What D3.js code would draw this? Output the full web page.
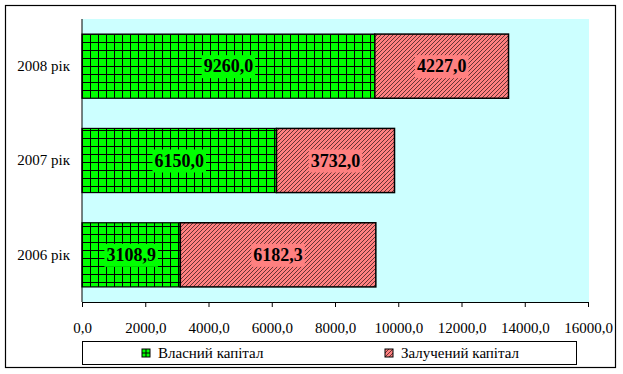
<!DOCTYPE html>
<html>
<head>
<meta charset="utf-8">
<script src="https://cdn.jsdelivr.net/npm/d3@7"></script>
<style>
  body { margin: 0; background: #fff; }
  svg { display: block; font-family: "Liberation Serif", "Times New Roman", serif; }
</style>
</head>
<body>
<div id="chart"></div>
<script>
const years = ["2008 рік", "2007 рік", "2006 рік"];
const ownCapital = [9260.0, 6150.0, 3108.9];
const borrowedCapital = [4227.0, 3732.0, 6182.3];
const seriesNames = ["Власний капітал", "Залучений капітал"];
const xTicks = [0, 2000, 4000, 6000, 8000, 10000, 12000, 14000, 16000];

const W = 623, H = 374;
const plot = { left: 82, right: 588, top: 19, bottom: 302 };

const locale = d3.formatLocale({ decimal: ",", thousands: "", grouping: [3], currency: ["", ""] });
const fmt = locale.format(".1f");

const svg = d3.select("#chart").append("svg")
  .attr("width", W).attr("height", H);

const defs = svg.append("defs");

// green grid fill
const grid = defs.append("pattern")
  .attr("id", "grid")
  .attr("patternUnits", "userSpaceOnUse")
  .attr("x", plot.left).attr("y", 2)
  .attr("width", 8).attr("height", 8);
grid.append("rect").attr("width", 8).attr("height", 8).attr("fill", "#00ff00");
grid.append("rect").attr("width", 8).attr("height", 1).attr("fill", "#000");
grid.append("rect").attr("width", 1).attr("height", 8).attr("fill", "#000");

// red diagonal hatch
const hatch = defs.append("pattern")
  .attr("id", "hatch")
  .attr("patternUnits", "userSpaceOnUse")
  .attr("width", 4).attr("height", 4);
hatch.append("rect").attr("width", 4).attr("height", 4).attr("fill", "#ff8080");
hatch.append("path").attr("d", "M-1,1L1,-1M0,4L4,0M3,5L5,3")
  .attr("stroke", "#000").attr("stroke-width", 0.6).attr("fill", "none");

// outer frame
svg.append("rect")
  .attr("x", 5.5).attr("y", 5.5).attr("width", 610).attr("height", 362)
  .attr("fill", "#fff").attr("stroke", "#000").attr("stroke-width", 1.2);

// plot background
svg.append("rect")
  .attr("x", plot.left).attr("y", plot.top)
  .attr("width", plot.right - plot.left + 1).attr("height", plot.bottom - plot.top)
  .attr("fill", "#ccffff");

const x = d3.scaleLinear().domain([0, 16000]).range([plot.left, plot.right]);
const y = d3.scaleBand().domain(years).range([plot.top, plot.bottom])
  .paddingInner(0.32).paddingOuter(0.16);

const rows = years.map((yr, i) => ({ yr, own: ownCapital[i], borrowed: borrowedCapital[i] }));

const bars = svg.append("g");
rows.forEach(r => {
  bars.append("rect")
    .attr("x", x(0)).attr("y", y(r.yr))
    .attr("width", x(r.own) - x(0)).attr("height", y.bandwidth())
    .attr("fill", "url(#grid)")
    .attr("stroke", "#000").attr("stroke-width", 1.2);
  bars.append("rect")
    .attr("x", x(r.own)).attr("y", y(r.yr))
    .attr("width", x(r.own + r.borrowed) - x(r.own)).attr("height", y.bandwidth())
    .attr("fill", "url(#hatch)")
    .attr("stroke", "#000").attr("stroke-width", 1.5);
});

// value labels with solid background
const labels = svg.append("g");
function addLabel(cx, cy, text, bg) {
  const g = labels.append("g");
  const t = g.append("text")
    .attr("x", cx).attr("y", cy)
    .attr("text-anchor", "middle").attr("dy", "0.35em")
    .style("font-size", "18px").style("font-weight", "bold")
    .text(text);
  const bb = t.node().getBBox();
  g.insert("rect", "text")
    .attr("x", bb.x - 2).attr("y", cy - 11)
    .attr("width", bb.width + 4).attr("height", 23)
    .attr("fill", bg);
}
rows.forEach(r => {
  const cy = y(r.yr) + y.bandwidth() / 2;
  addLabel((x(0) + x(r.own)) / 2, cy, fmt(r.own), "#00ff00");
  addLabel((x(r.own) + x(r.own + r.borrowed)) / 2, cy, fmt(r.borrowed), "#ff8080");
});

// axes
const xAxis = svg.append("g")
  .attr("transform", `translate(0,${plot.bottom})`)
  .attr("font-family", null)
  .call(d3.axisBottom(x).tickValues(xTicks).tickFormat(fmt).tickSize(5).tickSizeOuter(0));
xAxis.attr("font-family", "'Liberation Serif', serif");
xAxis.select(".domain").attr("stroke", "#000");
xAxis.selectAll("text")
  .attr("y", 20)
  .style("font-size", "15px").attr("fill", "#000");

const yAxis = svg.append("g")
  .attr("transform", `translate(${plot.left},0)`)
  .call(d3.axisLeft(y).tickSize(0).tickPadding(12));
yAxis.attr("font-family", "'Liberation Serif', serif");
yAxis.select(".domain").attr("stroke", "#000").attr("d", `M0,${plot.top}V${plot.bottom}`);
yAxis.selectAll("text")
  .style("font-size", "15px").attr("fill", "#000");

// legend
const legend = svg.append("g");
legend.append("rect")
  .attr("x", 82.5).attr("y", 341.5).attr("width", 494).attr("height", 23)
  .attr("fill", "#fff").attr("stroke", "#000").attr("stroke-width", 1);

const legendItems = [
  { name: seriesNames[0], x: 142, fill: "#00ff00", kind: "grid" },
  { name: seriesNames[1], x: 385, fill: "#ff8080", kind: "hatch" }
];
legendItems.forEach(it => {
  const g = legend.append("g").attr("transform", `translate(${it.x},349)`);
  if (it.kind === "grid") {
    g.append("rect").attr("width", 8).attr("height", 8).attr("fill", it.fill)
      .attr("stroke", "#000").attr("stroke-width", 1);
    g.append("path").attr("d", "M4,0V8M0,4H8").attr("stroke", "#000").attr("stroke-width", 1);
  } else {
    g.append("rect").attr("width", 8).attr("height", 8).attr("fill", "url(#hatch)")
      .attr("stroke", "#000").attr("stroke-width", 1);
  }
  g.append("text")
    .attr("x", 16).attr("y", 4).attr("dy", "0.35em")
    .style("font-size", "15px")
    .text(it.name);
});
</script>
</body>
</html>
